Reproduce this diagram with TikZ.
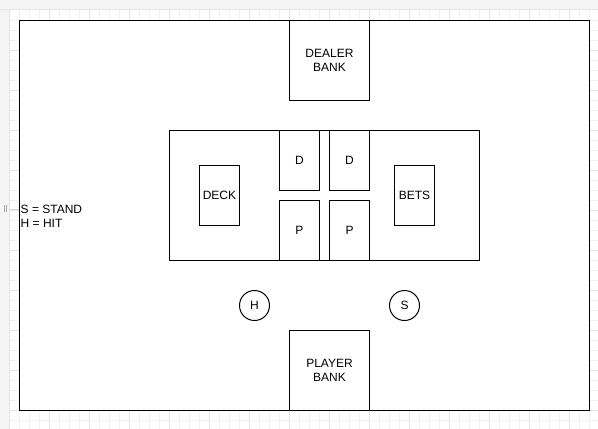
\documentclass[tikz,border=0pt]{standalone}
\usepackage{fontspec}
\setmainfont{Liberation Sans}
\begin{document}
\begin{tikzpicture}[x=1pt,y=-1pt,
  box/.style={draw=black, line width=1pt, fill=white, inner sep=0pt, align=center,
    font=\fontsize{12}{14}\selectfont},
  rbox/.style={box, rectangle},
  rbtn/.style={box, circle, minimum size=30pt},
  minorgrid/.style={draw=black!5, line width=0.8pt},
  majorgrid/.style={draw=black!10, line width=0.8pt}]
\useasboundingbox (0,0) rectangle (598,429);
\fill[white] (0,0) rectangle (598,429);
% editor chrome
\fill[black!4] (0,0) rectangle (598,9);
\fill[black!4] (0,0) rectangle (9,429);
\draw[black!10, line width=0.8pt] (0,9.5) -- (598,9.5);
\draw[black!10, line width=0.8pt] (9.5,9.5) -- (9.5,429);
% grid
\foreach \gx in {19.5,29.5,...,598} {\draw[minorgrid] (\gx,10) -- (\gx,429);}
\foreach \gy in {20,30,...,429} {\draw[minorgrid] (10,\gy) -- (598,\gy);}
\foreach \gx in {49.5,89.5,...,598} {\draw[majorgrid] (\gx,10) -- (\gx,429);}
\foreach \gy in {50,90,...,429} {\draw[majorgrid] (10,\gy) -- (598,\gy);}
% handle mark
\draw[black!35, line width=0.7pt] (4,205) -- (4,212) (6.5,205) -- (6.5,212);
\draw[black!15, line width=0.7pt] (10,209) -- (19,209);
% diagram
\node[rbox, minimum width=570pt, minimum height=390pt] (outer) at (304.5,215.5) {};
\node[rbox, minimum width=80pt, minimum height=80pt] (dealer) at (329.5,60.5) {DEALER\\BANK};
\node[rbox, minimum width=80pt, minimum height=80pt] (player) at (329.5,370.5) {PLAYER\\BANK};
\node[rbox, minimum width=310pt, minimum height=130pt] (table) at (324.5,195.5) {};
\node[rbox, minimum width=40pt, minimum height=60pt] (deck) at (219.5,195.5) {DECK};
\node[rbox, minimum width=40pt, minimum height=60pt] (bets) at (414.5,195.5) {BETS};
\node[rbox, minimum width=40pt, minimum height=60pt] (d1) at (299.5,160.5) {D};
\node[rbox, minimum width=40pt, minimum height=60pt] (d2) at (349.5,160.5) {D};
\node[rbox, minimum width=40pt, minimum height=60pt] (p1) at (299.5,230.5) {P};
\node[rbox, minimum width=40pt, minimum height=60pt] (p2) at (349.5,230.5) {P};
\node[rbtn] (hit) at (254.5,305.5) {H};
\node[rbtn] (stand) at (404.5,305.5) {S};
\node[anchor=west, inner sep=0pt, align=left, font=\fontsize{12}{14}\selectfont] (legend) at (20.5,216) {S = STAND\\H = HIT};
\end{tikzpicture}
\end{document}
